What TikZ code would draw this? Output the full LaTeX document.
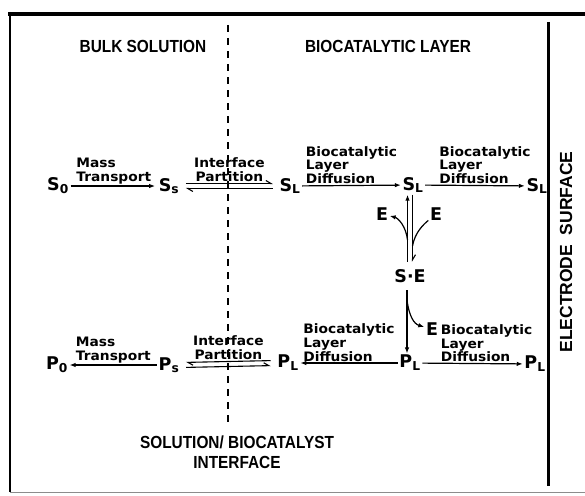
\documentclass[tikz,border=0pt]{standalone}
\usepackage{fontspec}
\newfontfamily\hdfont[FakeStretch=0.88]{Liberation Sans}
\newfontfamily\hdwide{Liberation Sans}
\newfontfamily\lblfont[FakeStretch=1.06]{DejaVu Sans}
\newfontfamily\symfont{DejaVu Sans}
\usepackage{tikz}
\usetikzlibrary{positioning}
\usetikzlibrary{arrows.meta}

\tikzset{
  hd/.style={font=\hdfont\bfseries\fontsize{17.5}{20}\selectfont, inner sep=0pt},
  hdw/.style={font=\hdwide\bfseries\fontsize{17.5}{20}\selectfont, inner sep=0pt},
  lbl/.style={font=\lblfont\bfseries\fontsize{13}{13.8}\selectfont, align=left, inner sep=1pt},
  sym/.style={font=\symfont\bfseries\fontsize{17.5}{18}\selectfont, inner sep=1.5pt},
  arr/.style={-{Latex[length=6pt,width=4.5pt]}, line width=1.2pt},
  harp/.style={-{Straight Barb[harpoon,length=5pt,width=6pt]}, line width=1.1pt, shorten <=5pt, shorten >=5pt},
}

\begin{document}
\begin{tikzpicture}[x=1pt,y=-1pt]
      \useasboundingbox (0,0) rectangle (585,495);
      % frame and boundaries
      \draw[line width=4pt] (8,14) -- (585,14);
      \draw[line width=1.2pt] (10,12) -- (10,492);
      \draw[line width=1pt, black!45] (10,492) -- (585,492);
      \draw[line width=3pt] (548,22) -- (548,486);
      \draw[line width=1.3pt, dash pattern=on 7pt off 6pt] (228,25) -- (228,424);

      \node[hd] (bulk) at (143,46) {BULK SOLUTION};
      \node[hd] (layer) at (388,46) {BIOCATALYTIC LAYER};
      \node[hdw, rotate=90] (elec) at (566,252) {ELECTRODE\ \ SURFACE};
      \node[hd, align=center] (intf) at (237,452) {SOLUTION/ BIOCATALYST\\INTERFACE};

      % substrate row
      \node[sym] (s0) at (58,186) {S\textsubscript{0}};
      \node[sym] (ss) at (169,186) {S\textsubscript{s}};
      \node[sym] (sl1) at (290,186) {S\textsubscript{L}};
      \node[sym] (sl2) at (413,185) {S\textsubscript{L}};
      \node[sym] (sl3) at (537,186) {S\textsubscript{L}};

      \draw[arr, shorten >=2pt] (s0) -- node[lbl, above] (mt1) {Mass\\Transport} (ss);
      \draw[harp] ([yshift=2.5pt]ss.east) -- node[lbl, above, align=center] (ip1) {Interface\\Partition} ([yshift=2.5pt]sl1.west);
      \draw[harp] ([yshift=-2.5pt]sl1.west) -- ([yshift=-2.5pt]ss.east);
      \draw[arr] (sl1) -- node[lbl, above] (bd1) {Biocatalytic\\Layer\\Diffusion} (sl2);
      \draw[arr] (sl2) -- node[lbl, above, pos=0.6] (bd2) {Biocatalytic\\Layer\\Diffusion} (sl3);

      % enzyme complex
      \node[sym] (se) at (410,276) {S·E};
      \node[sym] (eleft) at (382,214) {E};
      \node[sym] (eright) at (436,214) {E};
      \node[sym] (eout) at (432,329) {E};

      \coordinate (vt) at (se.north |- sl2.south);
      \draw[arr, shorten <=6pt] ([xshift=-2.5pt]se.north) -- ([xshift=-2.5pt]vt);
      \draw[harp, shorten <=0pt, shorten >=6pt] ([xshift=2.5pt]vt) -- ([xshift=2.5pt]se.north);
      \coordinate (jl) at (407.5,240);
      \coordinate (jr) at (412.5,246);
      \draw[arr] (jl) .. controls (406,226) and (398,218) .. (eleft);
      \draw[line width=1.2pt] (eright) .. controls (424,224) and (415,232) .. (jr);

      % product row
      \node[sym] (p0) at (57,365) {P\textsubscript{0}};
      \node[sym] (ps) at (169,365) {P\textsubscript{s}};
      \node[sym] (pl1) at (288,363) {P\textsubscript{L}};
      \node[sym] (pl2) at (410,363) {P\textsubscript{L}};
      \node[sym] (pl3) at (535,364) {P\textsubscript{L}};

      \coordinate (vb) at (se.south |- pl2.north);
      \draw[arr, shorten <=6pt] ([xshift=-3pt]se.south) -- ([xshift=-3pt]vb);
      \coordinate (jd) at (407,300);
      \draw[arr] (jd) .. controls (409,316) and (414,324) .. (eout);

      \draw[arr] (ps) -- node[lbl, above] (mt2) {Mass\\Transport} (p0);
      \draw[harp] ([yshift=2.5pt]pl1.west) -- node[lbl, above, align=center] (ip2) {Interface\\Partition} ([yshift=2.5pt]ps.east);
      \draw[harp] ([yshift=-2.5pt]ps.east) -- ([yshift=-2.5pt]pl1.west);
      \draw[arr] (pl2) -- node[lbl, above] (bd3) {Biocatalytic\\Layer\\Diffusion} (pl1);
      \draw[arr] (pl2) -- node[lbl, above, pos=0.64] (bd4) {Biocatalytic\\Layer\\Diffusion} (pl3);
\end{tikzpicture}
\end{document}
